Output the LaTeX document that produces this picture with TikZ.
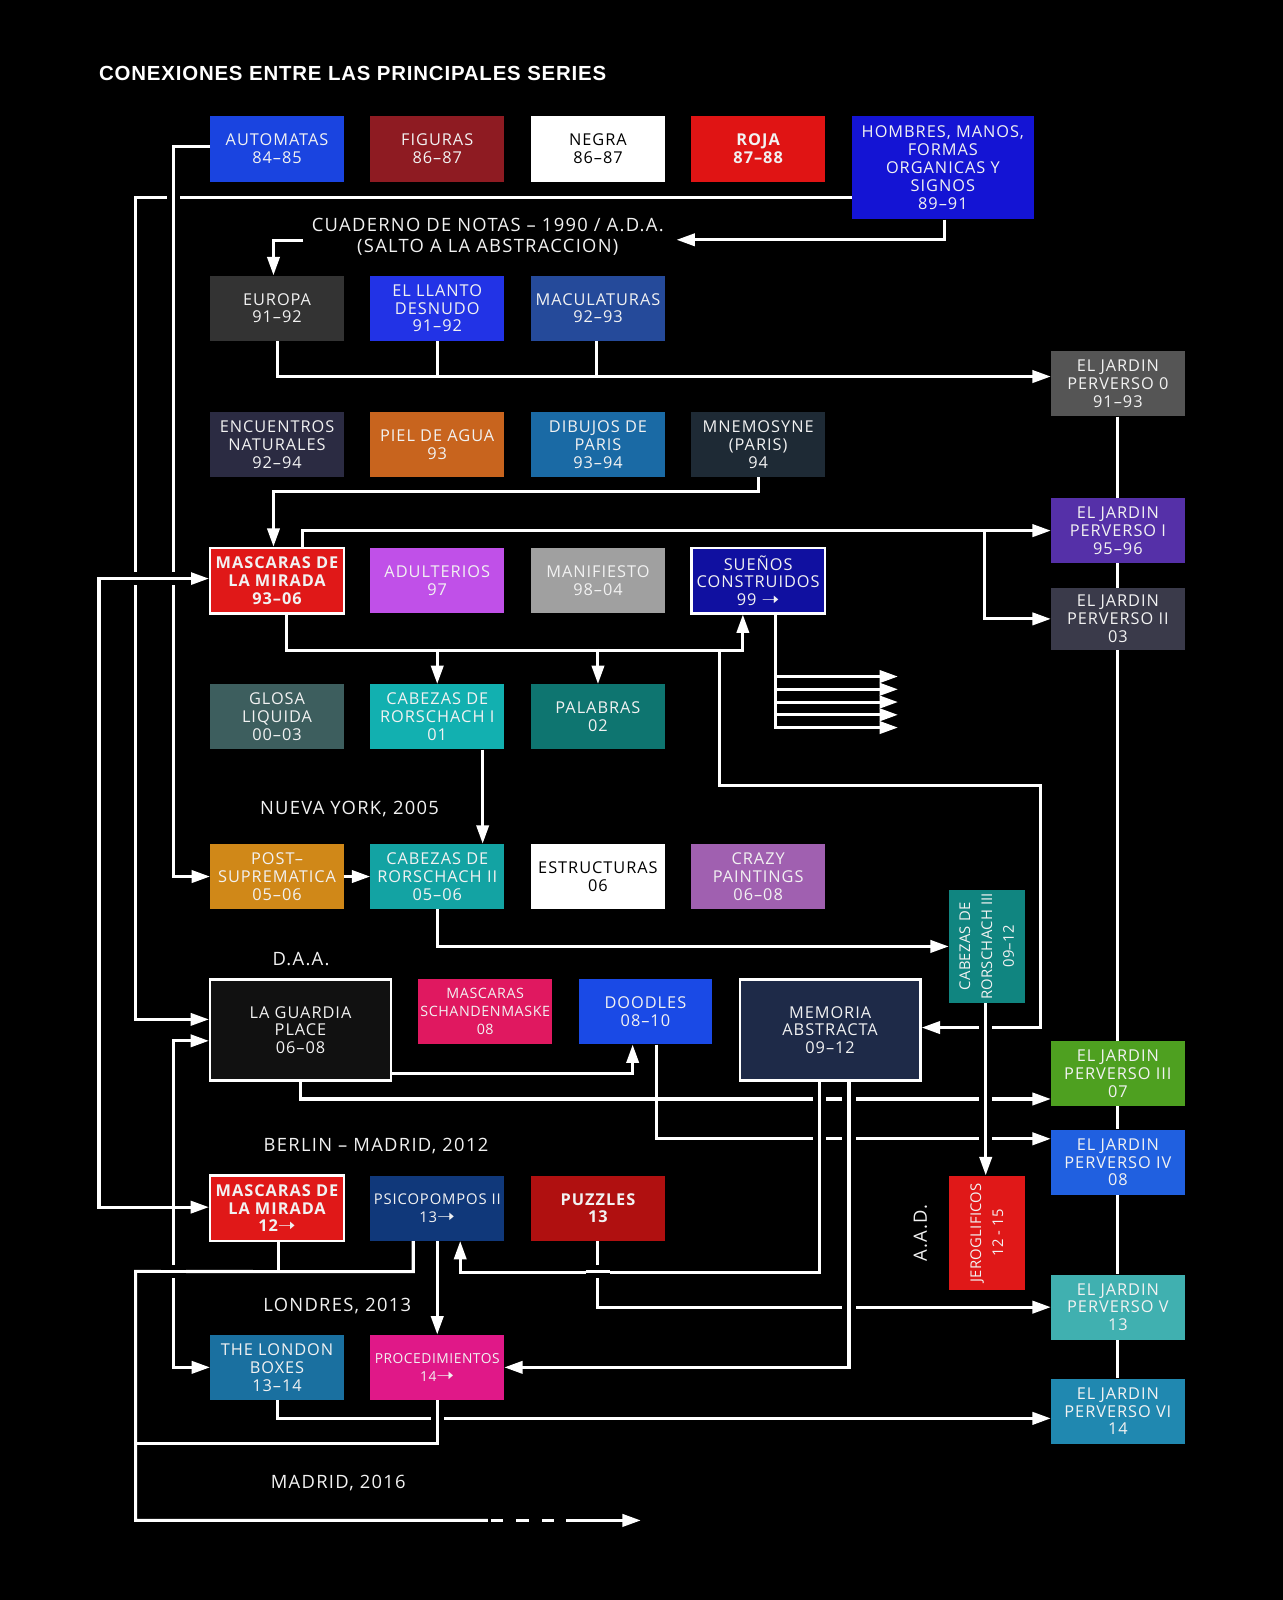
\documentclass[tikz,border=0pt]{standalone}
\usepackage{fontspec}
\setmainfont{Open Sans}
\newfontfamily\bxfont[LetterSpace=6]{Open Sans}
\newfontfamily\bxfontn[LetterSpace=4]{Open Sans}
\newfontfamily\labfont[LetterSpace=7]{Open Sans}
\newfontfamily\rotfont[LetterSpace=2]{Open Sans}
\newfontfamily\ttlfont[LetterSpace=4]{Liberation Sans}
\newfontfamily\symfont{DejaVu Sans}
\usetikzlibrary{arrows.meta}
\newcommand{\myarrow}{{\symfont\fontsize{11}{11}\selectfont\scalebox{1.9}[1.6]{➝}}}
\definecolor{cAut}{HTML}{1A44E0}
\definecolor{cFig}{HTML}{8E1B22}
\definecolor{cRoja}{HTML}{E01414}
\definecolor{cHom}{HTML}{1414D4}
\definecolor{cEur}{HTML}{333333}
\definecolor{cLla}{HTML}{2233E6}
\definecolor{cMac}{HTML}{254A9A}
\definecolor{cJ0}{HTML}{555555}
\definecolor{cEnc}{HTML}{2B2B42}
\definecolor{cPie}{HTML}{C8641E}
\definecolor{cDib}{HTML}{1A6AA5}
\definecolor{cMne}{HTML}{1E2A35}
\definecolor{cMas}{HTML}{E01818}
\definecolor{cAdu}{HTML}{C050E8}
\definecolor{cMan}{HTML}{A0A0A0}
\definecolor{cSue}{HTML}{1010A0}
\definecolor{cJ1}{HTML}{5530A8}
\definecolor{cJ2}{HTML}{3A3A4A}
\definecolor{cGlo}{HTML}{3D5E5E}
\definecolor{cCabA}{HTML}{12B0B0}
\definecolor{cPal}{HTML}{0E7570}
\definecolor{cPos}{HTML}{D08818}
\definecolor{cCabB}{HTML}{13A3A3}
\definecolor{cCra}{HTML}{A060B0}
\definecolor{cCabC}{HTML}{108580}
\definecolor{cGua}{HTML}{111111}
\definecolor{cSch}{HTML}{E01860}
\definecolor{cDoo}{HTML}{1A4AE6}
\definecolor{cMem}{HTML}{1E2A48}
\definecolor{cJ3}{HTML}{4EA020}
\definecolor{cJ4}{HTML}{2060E0}
\definecolor{cJer}{HTML}{E01818}
\definecolor{cPsi}{HTML}{10387A}
\definecolor{cPuz}{HTML}{B01010}
\definecolor{cJ5}{HTML}{40B0B0}
\definecolor{cLon}{HTML}{1A70A0}
\definecolor{cPro}{HTML}{E01888}
\definecolor{cJ6}{HTML}{2088B0}
\definecolor{txt}{HTML}{F2F2F2}
\tikzset{
  box/.style={rectangle, inner sep=0pt, minimum width=131pt, minimum height=64pt,
    align=center, text=txt, font=\bxfont\fontsize{16}{17.5}\selectfont},
  boldtxt/.style={font=\bxfont\bfseries\fontsize{16}{17.5}\selectfont},
  smalltxt/.style={font=\bxfontn\fontsize{14}{17.5}\selectfont},
  wb/.style={draw=white, line width=2.5pt},
  rottxt/.style={rotate=90, align=center, text=txt, inner sep=0pt,
    font=\rotfont\fontsize{14.5}{21.5}\selectfont},
  lab/.style={text=txt, inner sep=0pt, align=center,
    font=\labfont\fontsize{18}{20}\selectfont},
  ln/.style={draw=white, line width=3pt},
  conn/.style={draw=white, line width=3pt, -{Triangle[length=18pt,width=12pt]}},
  connboth/.style={draw=white, line width=3pt,
    {Triangle[length=18pt,width=12pt]}-{Triangle[length=18pt,width=12pt]}},
  bridge/.style={draw=white, line width=3pt, preaction={draw=black, line width=13pt}},
}
\begin{document}
\begin{tikzpicture}[x=1pt, y=-1pt]
\fill[black] (0,0) rectangle (1257,1568);
\useasboundingbox (0,0) rectangle (1257,1568);

% title and labels
\node[anchor=west, text=white, inner sep=0pt, font=\ttlfont\bfseries\fontsize{20}{22}\selectfont] (title) at (97,72) {CONEXIONES ENTRE LAS PRINCIPALES SERIES};
\node[lab] (cuad) at (478,232) {CUADERNO DE NOTAS – 1990 / A.D.A.\\(SALTO A LA ABSTRACCION)};
\node[lab] (ny) at (342.5,793) {NUEVA YORK, 2005};
\node[lab] (daa) at (295,940) {D.A.A.};
\node[lab] (bm) at (368.5,1123) {BERLIN – MADRID, 2012};
\node[lab] (lo) at (330.5,1280) {LONDRES, 2013};
\node[lab] (ma) at (331.5,1453) {MADRID, 2016};
\node[lab, rotate=90] (aad) at (902,1208) {A.A.D.};

% row 1
\node[box, fill=cAut] (aut) at (271.5,146) {AUTOMATAS\\84–85};
\node[box, fill=cFig] (fig) at (428.5,146) {FIGURAS\\86–87};
\node[box, fill=white, text=black] (neg) at (586,146) {NEGRA\\86–87};
\node[box, boldtxt, fill=cRoja] (roj) at (743,146) {ROJA\\87–88};
\node[box, fill=cHom, minimum width=178pt, minimum height=101pt] (hom) at (924,164.5) {HOMBRES, MANOS,\\FORMAS\\ORGANICAS Y\\SIGNOS\\89–91};
% row 3
\node[box, fill=cEur] (eur) at (271.5,302) {EUROPA\\91–92};
\node[box, fill=cLla] (lla) at (428.5,302) {EL LLANTO\\DESNUDO\\91–92};
\node[box, fill=cMac] (mac) at (586,302) {MACULATURAS\\92–93};
\node[box, fill=cJ0] (j0) at (1095.5,376) {EL JARDIN\\PERVERSO 0\\91–93};
% row 4
\node[box, fill=cEnc] (enc) at (271.5,435.5) {ENCUENTROS\\NATURALES\\92–94};
\node[box, fill=cPie] (pie) at (428.5,435.5) {PIEL DE AGUA\\93};
\node[box, fill=cDib] (dib) at (586,435.5) {DIBUJOS DE\\PARIS\\93–94};
\node[box, fill=cMne] (mne) at (743,435.5) {MNEMOSYNE\\(PARIS)\\94};
\node[box, fill=cJ1] (j1) at (1095.5,520) {EL JARDIN\\PERVERSO I\\95–96};
% row 5
\node[box, boldtxt, fill=cMas, wb] (mas1) at (271.5,569) {MASCARAS DE\\LA MIRADA\\93–06};
\node[box, fill=cAdu] (adu) at (428.5,569) {ADULTERIOS\\97};
\node[box, fill=cMan] (man) at (586,569) {MANIFIESTO\\98–04};
\node[box, fill=cSue, wb] (sue) at (743,569) {SUEÑOS\\CONSTRUIDOS\\99 \myarrow};
\node[box, fill=cJ2, minimum height=61pt] (j2) at (1095.5,606.5) {EL JARDIN\\PERVERSO II\\03};
% row 6
\node[box, fill=cGlo] (glo) at (271.5,702.5) {GLOSA\\LIQUIDA\\00–03};
\node[box, fill=cCabA] (cab1) at (428.5,702.5) {CABEZAS DE\\RORSCHACH I\\01};
\node[box, fill=cPal] (pal) at (586,702.5) {PALABRAS\\02};
% row 7
\node[box, fill=cPos] (pos) at (271.5,859) {POST–\\SUPREMATICA\\05–06};
\node[box, fill=cCabB] (cab2) at (428.5,859) {CABEZAS DE\\RORSCHACH II\\05–06};
\node[box, fill=white, text=black] (est) at (586,859) {ESTRUCTURAS\\06};
\node[box, fill=cCra] (cra) at (743,859) {CRAZY\\PAINTINGS\\06–08};
\node[box, fill=cCabC, minimum width=74pt, minimum height=111pt] (cab3) at (967,927.5) {};
\node[rottxt] (cab3t) at (cab3.center) {CABEZAS DE\\RORSCHACH III\\09–12};
% row 8
\node[box, fill=cGua, wb, minimum width=177pt, minimum height=99pt] (guard) at (294.5,1009.5) {LA GUARDIA\\PLACE\\06–08};
\node[box, smalltxt, fill=cSch] (sch) at (475.5,991.5) {MASCARAS\\SCHANDENMASKE\\08};
\node[box, fill=cDoo] (doo) at (632.5,991.5) {DOODLES\\08–10};
\node[box, fill=cMem, wb, minimum width=177pt, minimum height=99pt] (mem) at (813.5,1009.5) {MEMORIA\\ABSTRACTA\\09–12};
\node[box, fill=cJ3] (j3) at (1095.5,1052) {EL JARDIN\\PERVERSO III\\07};
\node[box, fill=cJ4] (j4) at (1095.5,1139) {EL JARDIN\\PERVERSO IV\\08};
\node[box, fill=cJer, minimum width=74pt, minimum height=112pt] (jer) at (967,1208) {};
\node[rottxt] (jert) at (jer.center) {JEROGLIFICOS\\12 - 15};
% row 9
\node[box, boldtxt, fill=cMas, wb] (mas2) at (271.5,1184) {MASCARAS DE\\LA MIRADA\\12\myarrow};
\node[box, font=\bxfont\fontsize{14.5}{17.5}\selectfont, fill=cPsi] (psi) at (428.5,1184) {PSICOPOMPOS II\\13\myarrow};
\node[box, boldtxt, fill=cPuz] (puz) at (586,1184) {PUZZLES\\13};
\node[box, fill=cJ5] (j5) at (1095.5,1281) {EL JARDIN\\PERVERSO V\\13};
% row 10
\node[box, fill=cLon] (lon) at (271.5,1340) {THE LONDON\\BOXES\\13–14};
\node[box, font=\bxfontn\fontsize{13.5}{17.5}\selectfont, fill=cPro] (pro) at (428.5,1340) {PROCEDIMIENTOS\\14\myarrow};
\node[box, fill=cJ6] (j6) at (1095.5,1383) {EL JARDIN\\PERVERSO VI\\14};

% jardin chain
\draw[ln] (j0.south) -- (j1.north);
\draw[ln] (j1.south) -- (j2.north);
\draw[ln] (j2.south) -- (j3.north);
\draw[ln] (j3.south) -- (j4.north);
\draw[ln] (j4.south) -- (j5.north);
\draw[ln] (j5.south) -- (j6.north);

% named free ends
\coordinate (cuadE) at (663,235);
\coordinate (cuadW) at (297,236);
\coordinate (br1) at (965,520);
\coordinate (yA) at (0,636);
\coordinate (bM) at (705,636);
\coordinate (xL) at (133,1415);
\coordinate (dashS) at (478,1490);
\coordinate (dashE) at (555,1490);
\coordinate (endM) at (628,1490);

% connectors
\draw[conn] ([shift={(2,0)}]hom.south) |- (cuadE);
\draw[conn] (cuadW) -| ([shift={(-3.5,0)}]eur.north);
\draw[conn] (eur.south) |- ([shift={(0,-7)}]j0.west);
\draw[ln] (lla.south) -- ++(0,35);
\draw[ln] ([shift={(-1,0)}]mac.south) -- ++(0,35);
\draw[conn] (mne.south) -- ++(0,14) -| ([shift={(-3.5,0)}]mas1.north);
\draw[conn] ([shift={(24.5,0)}]mas1.north) |- (j1.west);
\draw[conn] (br1) |- (j2.west);
\draw[conn] ([shift={(9.5,0)}]mas1.south) -- ++(0,35) -| ([shift={(-15,0)}]sue.south);
\draw[conn] (cab1.north |- yA) -- (cab1.north);
\draw[conn] (pal.north |- yA) -- (pal.north);
\draw[conn] (bM) -- (705,770) -- (1020,770) |- ([shift={(0,-2.5)}]mem.east);
\draw[ln] ([shift={(17,0)}]sue.south) -- ++(0,112);
\foreach \yy [count=\i] in {663,675.5,688,700.5,713} {
  \coordinate (sa\i) at (760,\yy);
  \coordinate (sb\i) at (880,\yy);
  \draw[conn] (sa\i) -- (sb\i);
}
\draw[conn] ([shift={(44.5,0)}]cab1.south) -- ([shift={(44.5,0)}]cab2.north);
\draw[conn] (pos.east) -- (cab2.west);
\draw[conn] (cab2.south) |- (cab3.west);
\draw[conn] ([shift={(-1,0)}]cab3.south) -- ([shift={(-1,0)}]jer.north);
\draw[conn] ([shift={(0,42.5)}]guard.east) -| ([shift={(-12.5,0)}]doo.south);
\draw[conn] (guard.south) |- ([shift={(0,25)}]j3.west);
\draw[conn] ([shift={(10.5,0)}]doo.south) |- ([shift={(0,-23)}]j4.west);
\draw[conn] ([shift={(-10.5,0)}]mem.south) -- ++(0,187) -| ([shift={(22.5,0)}]psi.south);
\draw[conn] ([shift={(18.5,0)}]mem.south) |- (pro.east);
\draw[conn] (puz.south) |- (j5.west);
\draw[conn] (psi.south) -- (pro.north);
\draw[ln] ([shift={(1.5,0)}]mas2.south) -- ++(0,30);
\draw[ln] ([shift={(-23.5,0)}]psi.south) -- ++(0,30) -- (133,1246) |- (dashS);
\draw[ln, dash pattern=on 12pt off 13pt] ([shift={(3,0)}]dashS) -- (dashE);
\draw[conn] (dashE) -- (endM);
\draw[ln] (pro.south) |- (xL);
\draw[conn] (lon.south) |- ([shift={(0,7)}]j6.west);
\draw[conn] ([shift={(0,29.5)}]hom.west) -- (133,194) -- (133,999) -- ([shift={(0,-10.5)}]guard.west);
\draw[conn] ([shift={(0,-2)}]aut.west) -- (170,144) |- (pos.west);
\draw[connboth] ([shift={(0,10.5)}]guard.west) -- (170,1020) |- (lon.west);
\draw[connboth] ([shift={(0,-2)}]mas1.west) -- (97,567) |- ([shift={(0,-1)}]mas2.west);

% crossing gaps
\draw[bridge] (170,182) -- (170,206);
\draw[bridge] (116,567) -- (187,567);
\draw[bridge] (158,1246) -- (182,1246);
\draw[bridge] (803,1066) -- (803,1128);
\draw[bridge] (832,1066) -- (832,1128);
\draw[bridge] (966,995) -- (966,1128);
\draw[bridge] (832,1270) -- (832,1294);
\draw[bridge] (574,1246) -- (598,1246);
\draw[bridge] (428.5,1378) -- (428.5,1402);
\end{tikzpicture}
\end{document}
